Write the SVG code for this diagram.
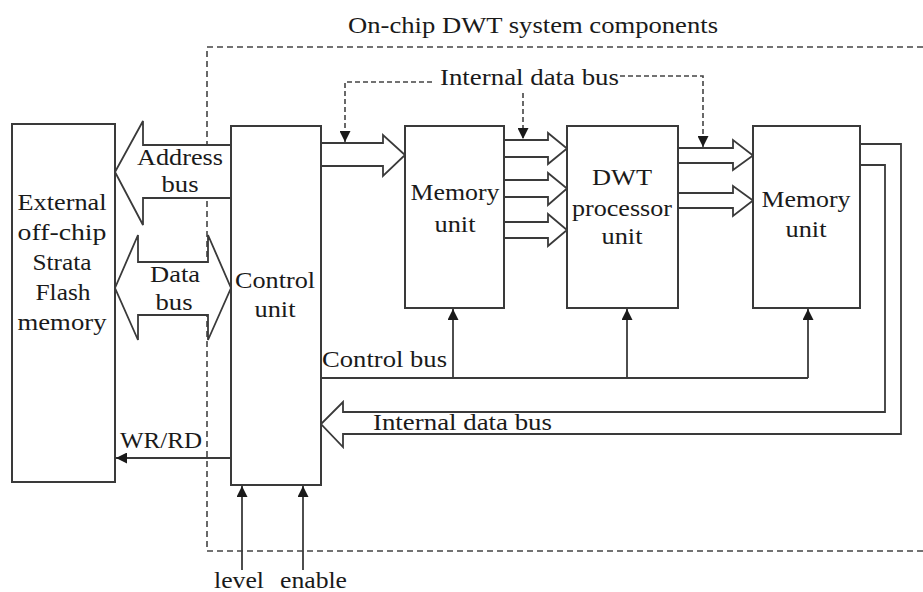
<svg xmlns="http://www.w3.org/2000/svg" width="923" height="592" viewBox="0 0 923 592">
<style>
.box{fill:#fff;stroke:#3a3a3a;stroke-width:2}
.bus{fill:#fff;stroke:#3a3a3a;stroke-width:1.8;stroke-linejoin:miter}
.ln{fill:none;stroke:#3a3a3a;stroke-width:1.8}
.dash{fill:none;stroke:#444;stroke-width:1.6;stroke-dasharray:6,4}
.dsh2{fill:none;stroke:#444;stroke-width:1.6;stroke-dasharray:5,3}
text{font-family:'Liberation Serif',Tinos,'Times New Roman',Times,serif;font-size:23px;fill:#1a1a1a}
.m{text-anchor:middle}
</style>
<defs>
<marker id="tri" viewBox="0 0 10 10" refX="10" refY="5" markerUnits="userSpaceOnUse" markerWidth="12" markerHeight="11" orient="auto">
<path d="M0,0 L10,5 L0,10 z" fill="#1a1a1a"/>
</marker>
</defs>

<g id="boundary">
<path class="dash" d="M923,47 H207 V551 H923"/>
<text x="348" y="33" textLength="370" lengthAdjust="spacingAndGlyphs" font-family="Liberation Serif, serif">On-chip DWT system components</text>
</g>

<g id="connectors" font-family="Liberation Serif, serif">
<path class="bus" d="M231,145 H143 V121 L115,172 L143,225 V198 H231"/>
<path class="bus" d="M115,288 L138,235 V262 H208 V235 L231,288 L208,340 V315 H138 V340 Z"/>
<path class="bus" d="M321,143 H383 V135 L405,155 L383,176 V166 H321"/>
<path class="bus" d="M504,140 H548 V133 L567,148.5 L548,164 V157 H504"/>
<path class="bus" d="M504,180 H548 V173 L567,188.5 L548,205 V197 H504"/>
<path class="bus" d="M504,222 H548 V214 L567,230 L548,246 V238 H504"/>
<path class="bus" d="M678,148 H733 V140 L753,155.5 L733,170 V163 H678"/>
<path class="bus" d="M678,193 H733 V186 L753,200.5 L733,216 V208 H678"/>
<path class="bus" d="M860,165 H885 V412 H343 V402 L321,424 L343,447 V434 H901 V144 H860"/>
<path class="ln" d="M321,378 H808"/>
<path class="ln" d="M453,378 V309" marker-end="url(#tri)"/>
<path class="ln" d="M627,378 V309" marker-end="url(#tri)"/>
<path class="ln" d="M808,378 V309" marker-end="url(#tri)"/>
<path class="ln" d="M231,458 H116" marker-end="url(#tri)"/>
<path class="ln" d="M242,570 V486" marker-end="url(#tri)"/>
<path class="ln" d="M303,570 V486" marker-end="url(#tri)"/>
<path class="dsh2" d="M432,82 H345 V142" marker-end="url(#tri)"/>
<path class="dsh2" d="M523,93 V139" marker-end="url(#tri)"/>
<path class="dsh2" d="M620,76 H703 V147" marker-end="url(#tri)"/>
<text x="440" y="85" textLength="179" lengthAdjust="spacingAndGlyphs">Internal data bus</text>
<text x="180" y="165" class="m" textLength="86" lengthAdjust="spacingAndGlyphs">Address</text>
<text x="180" y="192" class="m" textLength="37" lengthAdjust="spacingAndGlyphs">bus</text>
<text x="175" y="282" class="m" textLength="50" lengthAdjust="spacingAndGlyphs">Data</text>
<text x="174" y="310" class="m" textLength="37" lengthAdjust="spacingAndGlyphs">bus</text>
<text x="322" y="367" textLength="125" lengthAdjust="spacingAndGlyphs">Control bus</text>
<text x="373" y="430" textLength="179" lengthAdjust="spacingAndGlyphs">Internal data bus</text>
<text x="120" y="448" textLength="82" lengthAdjust="spacingAndGlyphs">WR/RD</text>
<text x="214" y="588" textLength="50" lengthAdjust="spacingAndGlyphs">level</text>
<text x="280" y="588" textLength="67" lengthAdjust="spacingAndGlyphs">enable</text>
</g>

<g id="external">
<rect class="box" x="12" y="124" width="103" height="358"/>
<text x="62" y="210" class="m" textLength="89" lengthAdjust="spacingAndGlyphs">External</text>
<text x="62" y="240" class="m" textLength="89" lengthAdjust="spacingAndGlyphs">off-chip</text>
<text x="62" y="270" class="m" textLength="59" lengthAdjust="spacingAndGlyphs">Strata</text>
<text x="63" y="300" class="m" textLength="55" lengthAdjust="spacingAndGlyphs">Flash</text>
<text x="62" y="330" class="m" textLength="89" lengthAdjust="spacingAndGlyphs">memory</text>
</g>

<g id="control">
<rect class="box" x="231" y="126" width="90" height="359"/>
<text x="275" y="288" class="m" textLength="80" lengthAdjust="spacingAndGlyphs">Control</text>
<text x="275" y="317" class="m" textLength="41" lengthAdjust="spacingAndGlyphs">unit</text>
</g>

<g id="memory1">
<rect class="box" x="405" y="126" width="99" height="182"/>
<text x="455" y="200" class="m" textLength="89" lengthAdjust="spacingAndGlyphs">Memory</text>
<text x="455" y="232" class="m" textLength="41" lengthAdjust="spacingAndGlyphs">unit</text>
</g>

<g id="dwt">
<rect class="box" x="567" y="126" width="111" height="182"/>
<text x="622" y="185" class="m" textLength="60" lengthAdjust="spacingAndGlyphs">DWT</text>
<text x="622" y="216" class="m" textLength="100" lengthAdjust="spacingAndGlyphs">processor</text>
<text x="622" y="244" class="m" textLength="41" lengthAdjust="spacingAndGlyphs">unit</text>
</g>

<g id="memory2">
<rect class="box" x="753" y="126" width="107" height="182"/>
<text x="806" y="207" class="m" textLength="89" lengthAdjust="spacingAndGlyphs">Memory</text>
<text x="806" y="237" class="m" textLength="41" lengthAdjust="spacingAndGlyphs">unit</text>
</g>
</svg>
